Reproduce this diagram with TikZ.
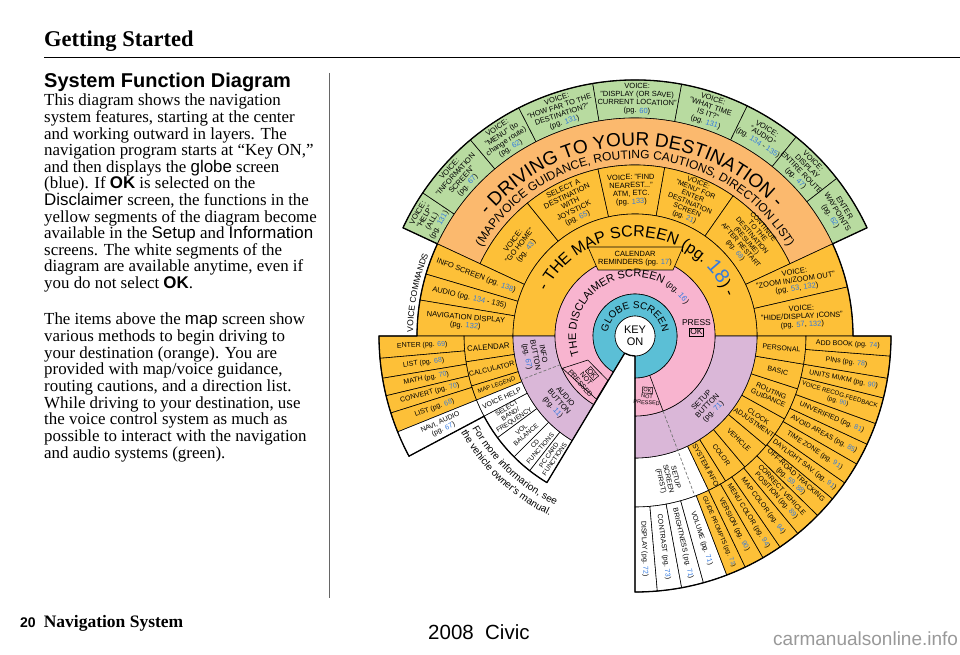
\documentclass[tikz,border=0pt]{standalone}
\usepackage{fontspec}
\setmainfont{Liberation Serif}
\setsansfont{Liberation Sans}
\usetikzlibrary{decorations.text}
\definecolor{cgreen}{HTML}{B8DBA0}
\definecolor{corange}{HTML}{FBB96E}
\definecolor{cyellow}{HTML}{FDC038}
\definecolor{cpink}{HTML}{F8B4CF}
\definecolor{cglobe}{HTML}{5BBFD6}
\definecolor{cpurple}{HTML}{DAB7D8}
\definecolor{pgblue}{HTML}{337AE0}
\newcommand{\pg}[1]{\textcolor{pgblue}{#1}}
\newcommand{\sect}[5]{\filldraw[#5] (#1:#3) arc[start angle=#1,end angle=#2,radius=#3] -- (#2:#4) arc[start angle=#2,end angle=#1,radius=#4] -- cycle;}
\newcommand{\lbl}[5][]{\node[lab,rotate=#4,#1] at (#2:#3) {#5};}
\newcommand{\okbox}{{\setlength{\fboxsep}{0.8pt}\setlength{\fboxrule}{0.5pt}\fbox{OK}}}
\tikzset{
  seg/.style={draw=black, line width=0.6pt},
  lab/.style={font=\sffamily\fontsize{7}{7.6}\selectfont, align=center, inner sep=0pt},
  big/.style={font=\sffamily\fontsize{7.5}{8.1}\selectfont},
  small/.style={font=\sffamily\fontsize{6.2}{6.8}\selectfont},
  outline/.style={draw=black, line width=1.3pt, line join=round},
  dashline/.style={draw=black!55, line width=0.7pt, dash pattern=on 3pt off 2pt},
  body/.style={anchor=base west, inner sep=0pt, font=\fontsize{16.9}{16.9}\selectfont},
}
\begin{document}
\begin{tikzpicture}[x=1pt,y=1pt]
\useasboundingbox (0,0) rectangle (960,655);
\fill[white] (0,0) rectangle (960,655);

% ---------- left column ----------
\node[anchor=base west, inner sep=0pt, font=\fontsize{22.5}{22.5}\selectfont\bfseries] (title) at (44,608) {Getting Started};
\draw[line width=1.6pt] (44,597.5) -- (960,597.5);
\node[anchor=base west, inner sep=0pt, font=\sffamily\bfseries\fontsize{20}{20}\selectfont] (sub) at (44,567.5) {System Function Diagram};
\node[body] (l1) at (44,549) {This diagram shows the navigation};
\node[body] (l2) at (44,532.4) {system features, starting at the center};
\node[body] (l3) at (44,515.8) {and working outward in layers. The};
\node[body] (l4) at (44,499.2) {navigation program starts at “Key ON,”};
\node[body] (l5) at (44,482.6) {and then displays the \textsf{globe} screen};
\node[body] (l6) at (44,466) {(blue). If \textsf{\bfseries OK} is selected on the};
\node[body] (l7) at (44,449.4) {\textsf{Disclaimer} screen, the functions in the};
\node[body] (l8) at (44,432.8) {yellow segments of the diagram become};
\node[body] (l9) at (44,416.2) {available in the \textsf{Setup} and \textsf{Information}};
\node[body] (l10) at (44,399.6) {screens. The white segments of the};
\node[body] (l11) at (44,383) {diagram are available anytime, even if};
\node[body] (l12) at (44,366.4) {you do not select \textsf{\bfseries OK}.};
\node[body] (m1) at (44,330) {The items above the \textsf{map} screen show};
\node[body] (m2) at (44,313.3) {various methods to begin driving to};
\node[body] (m3) at (44,296.7) {your destination (orange). You are};
\node[body] (m4) at (44,280) {provided with map/voice guidance,};
\node[body] (m5) at (44,263.4) {routing cautions, and a direction list.};
\node[body] (m6) at (44,246.7) {While driving to your destination, use};
\node[body] (m7) at (44,230) {the voice control system as much as};
\node[body] (m8) at (44,213.4) {possible to interact with the navigation};
\node[body] (m9) at (44,196.7) {and audio systems (green).};
\draw[black!60, line width=0.6pt] (329,582) -- (329,57);

% ---------- footer ----------
\node[anchor=base west, inner sep=0pt] (foot) at (20,27) {\sffamily\bfseries\fontsize{14}{14}\selectfont 20\hspace{8pt}\rmfamily\fontsize{17.5}{17.5}\selectfont Navigation System};
\node[anchor=base west, inner sep=0pt, font=\sffamily\fontsize{20.5}{20.5}\selectfont] (civic) at (428,15) {2008\ \ Civic};
\node[anchor=base west, inner sep=0pt, font=\sffamily\fontsize{19}{19}\selectfont, text=black!40] (site) at (773,9) {carmanualsonline.info};

% ---------- radial diagram ----------
\begin{scope}[shift={(635,319)}]
% green ring
\sect{146}{155}{218}{256}{seg,fill=cgreen}
\sect{130}{146}{218}{256}{seg,fill=cgreen}
\sect{117}{130}{218}{256}{seg,fill=cgreen}
\sect{99.5}{117}{218}{256}{seg,fill=cgreen}
\sect{79.5}{99.5}{218}{256}{seg,fill=cgreen}
\sect{64}{79.5}{218}{256}{seg,fill=cgreen}
\sect{51}{64}{218}{256}{seg,fill=cgreen}
\sect{38}{51}{218}{256}{seg,fill=cgreen}
\sect{25}{38}{218}{256}{seg,fill=cgreen}
% orange ring
\sect{25}{155}{171}{218}{seg,fill=corange}
% upper yellow segments
\sect{129}{155}{122}{171}{seg,fill=cyellow}
\sect{102.5}{129}{122}{171}{seg,fill=cyellow}
\sect{80}{102.5}{122}{171}{seg,fill=cyellow}
\sect{55}{80}{122}{171}{seg,fill=cyellow}
\sect{25}{55}{122}{171}{seg,fill=cyellow}
\sect{13}{25}{122}{218}{seg,fill=cyellow}
\sect{0}{13}{122}{218}{seg,fill=cyellow}
\sect{155}{163.5}{122}{218}{seg,fill=cyellow}
\sect{163.5}{170.5}{122}{218}{seg,fill=cyellow}
\sect{170.5}{180}{122}{218}{seg,fill=cyellow}
% lower middle ring
\sect{180}{188.7}{122}{171}{seg,fill=cyellow}
\sect{188.7}{197}{122}{171}{seg,fill=cyellow}
\sect{197}{202}{122}{171}{seg,fill=cyellow}
\sect{202}{208}{122}{171}{seg,fill=white}
\sect{208}{216.5}{122}{171}{seg,fill=white}
\sect{216.5}{225}{122}{171}{seg,fill=white}
\sect{225}{232}{122}{171}{seg,fill=white}
\sect{232}{239}{122}{171}{seg,fill=white}
\sect{270}{295.5}{122}{171}{seg,fill=white}
\sect{295.5}{302}{122}{171}{seg,fill=cyellow}
\sect{302}{310}{122}{171}{seg,fill=cyellow}
\sect{310}{320}{122}{171}{seg,fill=cyellow}
\sect{320}{331}{122}{171}{seg,fill=cyellow}
\sect{331}{342}{122}{171}{seg,fill=cyellow}
\sect{342}{350.5}{122}{171}{seg,fill=cyellow}
\sect{350.5}{360}{122}{171}{seg,fill=cyellow}
% lower outer ring
\sect{180}{185}{171}{256}{seg,fill=cyellow}
\sect{185}{189.5}{171}{256}{seg,fill=cyellow}
\sect{189.5}{193.5}{171}{256}{seg,fill=cyellow}
\sect{193.5}{197.5}{171}{256}{seg,fill=cyellow}
\sect{197.5}{202}{171}{256}{seg,fill=cyellow}
\sect{202}{208}{171}{256}{seg,fill=white}
\sect{270}{275}{171}{256}{seg,fill=white}
\sect{275}{280.5}{171}{256}{seg,fill=white}
\sect{280.5}{285.5}{171}{256}{seg,fill=white}
\sect{285.5}{291}{171}{256}{seg,fill=white}
\sect{291}{295.5}{171}{256}{seg,fill=cyellow}
\sect{295.5}{300}{171}{256}{seg,fill=cyellow}
\sect{300}{304.5}{171}{256}{seg,fill=cyellow}
\sect{304.5}{309.5}{171}{256}{seg,fill=cyellow}
\sect{309.5}{315.5}{171}{256}{seg,fill=cyellow}
\sect{315.5}{320.5}{171}{256}{seg,fill=cyellow}
\sect{320.5}{325}{171}{256}{seg,fill=cyellow}
\sect{325}{330}{171}{256}{seg,fill=cyellow}
\sect{330}{335}{171}{256}{seg,fill=cyellow}
\sect{335}{340}{171}{256}{seg,fill=cyellow}
\sect{340}{346}{171}{256}{seg,fill=cyellow}
\sect{346}{350.5}{171}{256}{seg,fill=cyellow}
\sect{350.5}{355.5}{171}{256}{seg,fill=cyellow}
\sect{355.5}{360}{171}{256}{seg,fill=cyellow}
% map ring and purple ring
\sect{0}{180}{80}{122}{seg,fill=cyellow}
\sect{180}{239}{80}{122}{seg,fill=cpurple}
\sect{270}{360}{80}{122}{seg,fill=cpurple}
% pink and globe
\sect{270}{599}{42}{80}{seg,fill=cpink}
\sect{270}{599}{20}{42}{seg,fill=cglobe}
\filldraw[seg, fill=white] (0,0) circle[radius=20];
% boxes in pink ring
\filldraw[seg, fill=cpink] (204:79.5) -- (238.5:74) -- (238.5:52) -- (207:53) -- cycle;
\draw[seg] (290.5:42) -- (290.5:80);
\filldraw[seg, fill=cyellow] (-47,89) -- (48,89) -- (38,66) -- (-37,66) -- cycle;
% dashed separators
\draw[dashline] (201:80) -- (201:122);
\draw[dashline] (290.5:80) -- (290.5:171);

% arc texts
\path[decorate, decoration={text along path, text align=center, text={|\sffamily\fontsize{19}{19}\selectfont|- DRIVING TO YOUR DESTINATION -}}] (150:190) arc[start angle=150, end angle=33, radius=190];
\path[decorate, decoration={text along path, text align=center, text={|\sffamily\fontsize{12}{12}\selectfont|(MAP/VOICE GUIDANCE, ROUTING CAUTIONS, DIRECTION LIST)}}] (152:177) arc[start angle=152, end angle=28, radius=177];
\path[decorate, decoration={text along path, text align=center, text={|\sffamily\fontsize{16}{16}\selectfont|- THE MAP SCREEN (pg. |\sffamily\fontsize{20}{20}\selectfont\color{pgblue}|18|\sffamily\fontsize{16}{16}\selectfont|) -}}] (162:99) arc[start angle=162, end angle=14, radius=99];
\path[decorate, decoration={text along path, text align=left, text={|\sffamily\fontsize{11}{11}\selectfont|THE DISCLAIMER SCREEN |\sffamily\fontsize{8}{8}\selectfont|(pg. |\sffamily\fontsize{8}{8}\selectfont\color{pgblue}|16|\sffamily\fontsize{8}{8}\selectfont|)}}] (199:59) arc[start angle=199, end angle=10, radius=59];
\path[decorate, decoration={text along path, text align=center, text={|\sffamily\fontsize{10}{10}\selectfont|GLOBE SCREEN}}] (185:27.5) arc[start angle=185, end angle=-5, radius=27.5];
\path[decorate, decoration={text along path, text align=left, text={|\sffamily\fontsize{8.5}{8.5}\selectfont|VOICE COMMANDS}}] (179:222) arc[start angle=179, end angle=150, radius=222];
\path[decorate, decoration={text along path, text align=left, text={|\sffamily\fontsize{10}{10}\selectfont|For more informarion, see}}] (209.5:187) arc[start angle=209.5, end angle=262, radius=187];
\path[decorate, decoration={text along path, text align=left, text={|\sffamily\fontsize{10}{10}\selectfont|the vehicle owner's manual.}}] (209:199) arc[start angle=209, end angle=262, radius=199];

% centre
\node[font=\sffamily\fontsize{11}{12}\selectfont, align=center, inner sep=0pt] (keyon) at (0,0) {KEY\\ON};
\node[lab, font=\sffamily\fontsize{7.5}{8.5}\selectfont] (calrem) at (0,77.5) {CALENDAR\\REMINDERS (pg. \pg{17})};
\node[lab, font=\sffamily\fontsize{8.5}{9.5}\selectfont] (press) at (7.5:62) {PRESS\\\okbox};
\lbl[font=\sffamily\fontsize{7}{7.6}\selectfont]{221}{64}{-50}{\okbox\\NOT\\PRESSED}
\lbl[font=\sffamily\fontsize{5.5}{6.2}\selectfont]{281.5}{61}{-4}{\okbox\\NOT\\PRESSED}

% purple
\lbl[font=\sffamily\fontsize{7.5}{8.2}\selectfont]{191}{102}{-79}{INFO\\BUTTON\\(pg. \pg{67})}
\lbl[font=\sffamily\fontsize{7.5}{8.2}\selectfont]{221}{101}{-49}{AUDIO\\BUTTON\\(pg. \pg{11})}
\lbl[font=\sffamily\fontsize{7.5}{8.2}\selectfont]{316}{101}{46}{SETUP\\BUTTON\\(pg. \pg{71})}

% upper segments
\lbl[big]{142}{146}{52}{VOICE:\\"GO HOME"\\(pg. \pg{43})}
\lbl[big]{116}{147}{26}{SELECT A\\DESTINATION\\WITH\\JOYSTICK\\(pg. \pg{65})}
\lbl[big]{91.5}{146}{1.5}{VOICE: "FIND\\NEAREST..."\\ATM, ETC.\\(pg. \pg{133})}
\lbl[font=\sffamily\fontsize{7}{7.4}\selectfont]{67.5}{147}{-22.5}{VOICE:\\"MENU" FOR\\ENTER\\DESTINATION\\SCREEN\\(pg. \pg{21})}
\lbl[font=\sffamily\fontsize{6.9}{7.3}\selectfont]{40.5}{150}{-49.5}{CONTINUE\\TO THE\\DESTINATION\\(RESUME)\\AFTER RESTART\\(pg. \pg{68})}
\lbl[big]{19}{170}{9}{VOICE:\\"ZOOM IN/ZOOM OUT"\\(pg. \pg{53}, \pg{132})}
\lbl[big]{6.5}{168}{3}{VOICE:\\"HIDE/DISPLAY ICONS"\\(pg. \pg{57}, \pg{132})}

% green
\lbl[big]{150.5}{237}{60.5}{VOICE:\\"HELP"\\(ALL)\\(pg. \pg{131})}
\lbl[big]{138}{237}{48}{VOICE:\\"INFORMATION\\SCREEN"\\(pg. \pg{67})}
\lbl[big]{123.5}{237}{33.5}{VOICE:\\"MENU" (to\\change route)\\(pg. \pg{62})}
\lbl[big]{108.25}{237}{18.25}{VOICE:\\"HOW FAR TO THE\\DESTINATION?"\\(pg. \pg{131})}
\lbl[big]{89.5}{237}{-0.5}{VOICE:\\"DISPLAY (OR SAVE)\\CURRENT LOCATION"\\(pg. \pg{60})}
\lbl[big]{71.75}{237}{-18.25}{VOICE:\\"WHAT TIME\\IS IT?"\\(pg. \pg{131})}
\lbl[big]{57.5}{237}{-32.5}{VOICE:\\"AUDIO"\\(pg. \pg{134} - \pg{135})}
\lbl[big]{44.5}{237}{-45.5}{VOICE:\\DISPLAY\\ENTIRE ROUTE\\(pg. \pg{47})}
\lbl[big]{31.5}{237}{-58.5}{ENTER\\WAYPOINTS\\(pg. \pg{62})}

% left block
\lbl[big]{159.25}{170}{-20.75}{INFO SCREEN (pg. \pg{138})}
\lbl[big]{167}{170}{-13}{AUDIO (pg. \pg{134} - 135)}
\lbl[big]{175.25}{170}{-4.75}{NAVIGATION DISPLAY\\(pg. \pg{132})}

% lower left
\lbl{182.5}{213}{2.5}{ENTER (pg. \pg{69})}
\lbl{187.25}{213}{7.25}{LIST (pg. \pg{68})}
\lbl{191.5}{213}{11.5}{MATH (pg. \pg{70})}
\lbl{195.5}{213}{15.5}{CONVERT (pg. \pg{70})}
\lbl{199.75}{213}{19.75}{LIST (pg. \pg{68})}
\lbl{205}{213}{25}{NAVI, AUDIO\\(pg. \pg{67})}
\lbl[font=\sffamily\fontsize{7.8}{8}\selectfont]{184.35}{147}{4.35}{CALENDAR}
\lbl{192.85}{147}{12.85}{CALCULATOR}
\lbl[font=\sffamily\fontsize{6}{6.5}\selectfont]{199.5}{147}{19.5}{MAP LEGEND}
\lbl{205}{147}{25}{VOICE HELP}
\lbl[font=\sffamily\fontsize{6.5}{7}\selectfont]{212.25}{147}{32.25}{SELECT\\BAND/\\FREQUENCY}
\lbl[font=\sffamily\fontsize{6.5}{7}\selectfont]{220.75}{147}{40.75}{VOL\\BALANCE}
\lbl[font=\sffamily\fontsize{6.5}{7}\selectfont]{228.5}{147}{48.5}{CD\\FUNCTIONS}
\lbl[font=\sffamily\fontsize{6.5}{7}\selectfont]{235.5}{147}{55.5}{PC CARD\\FUNCTIONS}

% lower right middle
\lbl{283}{147}{-77}{SETUP\\SCREEN\\(FIRST)}
\lbl{298.75}{147}{-61.25}{SYSTEM INFO}
\lbl{306}{147}{-54}{COLOR}
\lbl{315}{147}{-45}{VEHICLE}
\lbl{325.5}{147}{-34.5}{CLOCK\\ADJUSTMENT}
\lbl{336.5}{147}{-23.5}{ROUTING\\GUIDANCE}
\lbl{346.25}{147}{-13.75}{BASIC}
\lbl{355.25}{147}{-4.75}{PERSONAL}

% lower right outer
\lbl{272.5}{213}{-87.5}{DISPLAY (pg. \pg{72})}
\lbl{277.75}{213}{-82.25}{CONTRAST (pg. \pg{73})}
\lbl{283}{213}{-77}{BRIGHTNESS (pg. \pg{71})}
\lbl{288.25}{213}{-71.75}{VOLUME (pg. \pg{71})}
\lbl[small]{293.25}{213}{-66.75}{GUIDE PROMPTS (pg. \pg{73})}
\lbl{297.75}{213}{-62.25}{VERSION (pg. \pg{90})}
\lbl{302.25}{213}{-57.75}{MENU COLOR (pg. \pg{94})}
\lbl{307}{213}{-53}{MAP COLOR (pg. \pg{94})}
\lbl{312.5}{213}{-47.5}{CORRECT VEHICLE\\POSITION (pg. \pg{89})}
\lbl{318}{213}{-42}{OFF-ROAD TRACKING\\(pg. \pg{59}, \pg{88})}
\lbl{322.75}{213}{-37.25}{DAYLIGHT SAV. (pg. \pg{91})}
\lbl{327.5}{213}{-32.5}{TIME ZONE (pg. \pg{91})}
\lbl{332.5}{213}{-27.5}{AVOID AREAS (pg. \pg{85})}
\lbl{337.5}{213}{-22.5}{UNVERIFIED (pg. \pg{81})}
\lbl[small]{343}{213}{-17}{VOICE RECOG.FEEDBACK\\(pg. \pg{90})}
\lbl{348.25}{213}{-11.75}{UNITS MI/KM (pg. \pg{90})}
\lbl{353}{213}{-7}{PINs (pg. \pg{78})}
\lbl{357.75}{213}{-2.25}{ADD BOOK (pg. \pg{74})}

% outer outline
\draw[outline] (25:218) arc[start angle=25, end angle=0, radius=218] -- (0:256) arc[start angle=360, end angle=270, radius=256] -- (270:20) arc[start angle=270, end angle=239, radius=20] -- (239:171) arc[start angle=239, end angle=208, radius=171] -- (208:256) arc[start angle=208, end angle=180, radius=256] -- (180:218) arc[start angle=180, end angle=155, radius=218] -- (155:256) arc[start angle=155, end angle=25, radius=256] -- cycle;
\end{scope}
\end{tikzpicture}
\end{document}
